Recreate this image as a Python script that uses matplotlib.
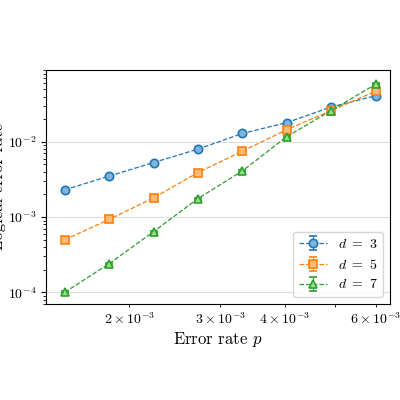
import numpy as np
import matplotlib
matplotlib.use("Agg")
import matplotlib.pyplot as plt

plt.rcParams['font.family'] = 'serif'
plt.rcParams['font.serif'] = ['cmr10', 'DejaVu Serif']
plt.rcParams['mathtext.fontset'] = 'cm'
plt.rcParams['axes.formatter.use_mathtext'] = True

p = np.geomspace(1.5e-3, 6e-3, 8)
d3 = [2.3e-3, 3.5e-3, 5.3e-3, 8.0e-3, 1.29e-2, 1.8e-2, 2.9e-2, 4.1e-2]
d5 = [5.0e-4, 9.3e-4, 1.8e-3, 3.9e-3, 7.5e-3, 1.45e-2, 2.6e-2, 4.7e-2]
d7 = [1.0e-4, 2.4e-4, 6.4e-4, 1.76e-3, 4.1e-3, 1.17e-2, 2.6e-2, 5.8e-2]

series = [(3, d3, 'o', '#1f77b4', '#7fb3dc'),
          (5, d5, 's', '#ff7f0e', '#ffbb78'),
          (7, d7, '^', '#2ca02c', '#98df8a')]

fig = plt.figure(figsize=(4, 4), dpi=100)
ax = fig.add_axes([0.115, 0.24, 0.86, 0.585])
for d, vals, m, c, fc in series:
    vals = np.array(vals)
    ax.errorbar(p, vals, yerr=vals * 0.03, fmt=m, ls='--', lw=0.9, color=c,
                mfc=fc, mec=c, ms=6, mew=1.2, capsize=3, elinewidth=0.8,
                label=r'$d\ =\ %d$' % d)
ax.set_xscale('log')
ax.set_yscale('log')
ax.set_xlim(1.38e-3, 6.4e-3)
ax.set_ylim(7e-5, 9e-2)
ax.grid(axis='y', which='major', color='#dddddd', lw=0.8)
ax.set_xlabel(r'Error rate $p$', fontsize=12, labelpad=2)
ax.set_ylabel('Logical error rate', fontsize=12, labelpad=1)
ax.legend(loc='lower right', fontsize=10)
fig.savefig('out.png')
